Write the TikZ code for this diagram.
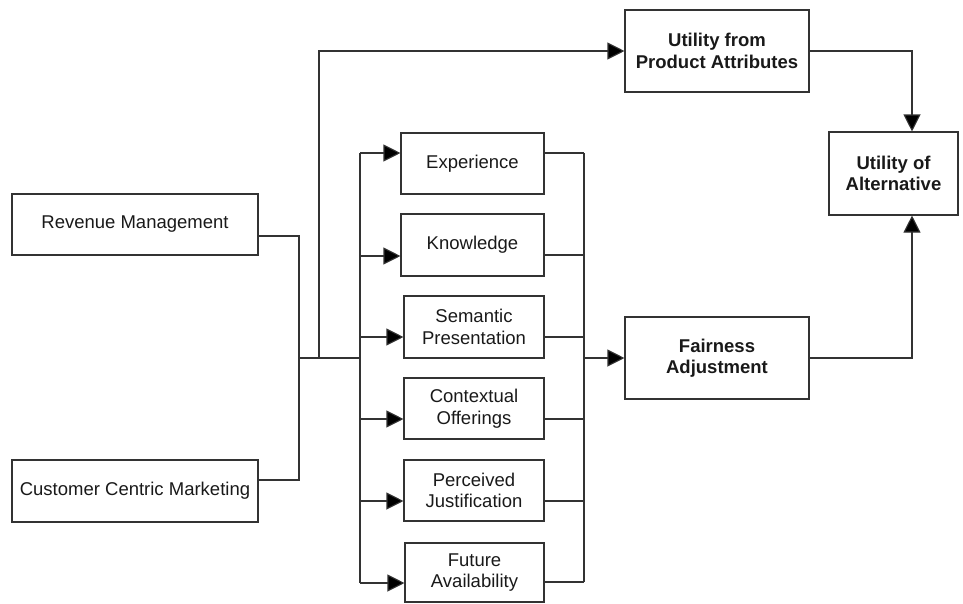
\documentclass[tikz,border=0pt]{standalone}
\usepackage{fontspec}
\setmainfont{Liberation Sans}
\usetikzlibrary{arrows.meta}
\begin{document}
\begin{tikzpicture}[x=1pt,y=-1pt,
  line width=1.1pt, draw=black!80,
  box/.style={draw=black!80, line width=1.1pt, align=center, inner sep=0pt,
    font=\fontsize{18.5}{21.5}\selectfont, text=black!90},
  bbox/.style={box, font=\fontsize{18.5}{21.5}\selectfont\bfseries},
  arr/.style={-{Triangle[length=17pt,width=17pt,fill=black]}}]
\useasboundingbox (0,0) rectangle (963,603);
% left boxes
\node[box, minimum width=246pt, minimum height=61pt] (RM) at (135,224.5) {Revenue Management};
\node[box, minimum width=246pt, minimum height=62pt] (CCM) at (135,491) {Customer Centric Marketing};
% right boxes
\node[bbox, minimum width=184pt, minimum height=82pt] (UPA) at (717,51) {Utility from\\Product Attributes};
\node[bbox, minimum width=129pt, minimum height=83pt] (UoA) at (893.5,173.5) {Utility of\\Alternative};
\node[bbox, minimum width=184pt, minimum height=82pt] (FA) at (717,358) {Fairness\\Adjustment};
% middle boxes
\node[box, minimum width=143pt, minimum height=61pt] (Exp) at (472.5,163.5) {Experience};
\node[box, minimum width=143pt, minimum height=62pt] (Kno) at (472.5,245) {Knowledge};
\node[box, minimum width=140pt, minimum height=62pt] (Sem) at (474,327) {Semantic\\Presentation};
\node[box, minimum width=140pt, minimum height=61pt] (Ctx) at (474,408.5) {Contextual\\Offerings};
\node[box, minimum width=140pt, minimum height=61pt] (Per) at (474,490.5) {Perceived\\Justification};
\node[box, minimum width=139pt, minimum height=59pt] (Fut) at (474.5,572.5) {Future\\Availability};
% coordinates
\coordinate (J1) at (299,358);
\coordinate (J2) at (319,358);
\coordinate (LT) at (360,153);
\coordinate (LB) at (360,583);
\coordinate (LM) at (360,358);
\coordinate (RT) at (584,153);
\coordinate (RB) at (584,582);
\coordinate (rmE) at ([yshift=-11.5pt]RM.east);
\coordinate (ccmE) at ([yshift=11pt]CCM.east);
\coordinate (eW) at ([yshift=10.5pt]Exp.west);
\coordinate (kW) at ([yshift=-11pt]Kno.west);
\coordinate (sW) at ([yshift=-10pt]Sem.west);
\coordinate (cW) at ([yshift=-10.5pt]Ctx.west);
\coordinate (pW) at ([yshift=-10.5pt]Per.west);
\coordinate (fW) at ([yshift=-10.5pt]Fut.west);
\coordinate (eE) at ([yshift=10.5pt]Exp.east);
\coordinate (kE) at ([yshift=-10pt]Kno.east);
\coordinate (sE) at ([yshift=-10pt]Sem.east);
\coordinate (cE) at ([yshift=-10.5pt]Ctx.east);
\coordinate (pE) at ([yshift=-10.5pt]Per.east);
\coordinate (fE) at ([yshift=-9.5pt]Fut.east);
\coordinate (uoaS) at ([xshift=18.5pt]UoA.south);
\coordinate (uoaN) at ([xshift=18.5pt]UoA.north);
% connectors left
\draw (rmE) -| (J1) |- (ccmE);
\draw (J1) -- (LM);
\draw[arr] (J2) |- (UPA.west);
\draw (LT) -- (LB);
\draw[arr] (LT |- eW) -- (eW);
\draw[arr] (LT |- kW) -- (kW);
\draw[arr] (LT |- sW) -- (sW);
\draw[arr] (LT |- cW) -- (cW);
\draw[arr] (LT |- pW) -- (pW);
\draw[arr] (LT |- fW) -- (fW);
% connectors right
\draw (RT) -- (RB);
\draw (eE) -- (RT |- eE);
\draw (kE) -- (RT |- kE);
\draw (sE) -- (RT |- sE);
\draw (cE) -- (RT |- cE);
\draw (pE) -- (RT |- pE);
\draw (fE) -- (RT |- fE);
\draw[arr] (RT |- FA.west) -- (FA.west);
\draw[arr] (FA.east) -| (uoaS);
\draw[arr] (UPA.east) -| (uoaN);
\end{tikzpicture}
\end{document}
